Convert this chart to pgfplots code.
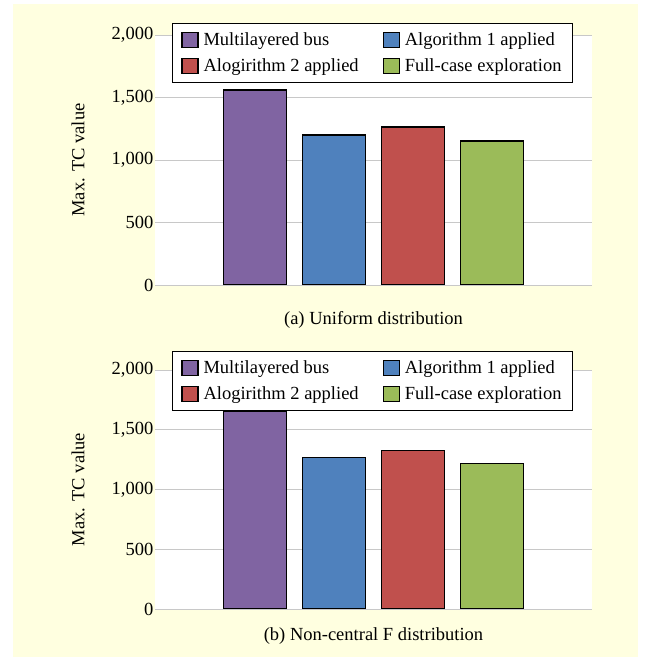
\documentclass[border=0pt]{standalone}
\usepackage{fontspec}
\setmainfont{Liberation Serif}
\usepackage{pgfplots}
\pgfplotsset{compat=1.18}
\definecolor{bgy}{RGB}{255,255,224}
\definecolor{cpur}{RGB}{128,100,162}
\definecolor{cblu}{RGB}{79,129,189}
\definecolor{cred}{RGB}{192,80,77}
\definecolor{cgrn}{RGB}{155,187,89}
\definecolor{gridc}{RGB}{200,200,200}
\newcommand{\fs}{\fontsize{18.5}{22}\selectfont}
\newcommand{\deepstrut}{\rule[-6.5pt]{0pt}{6.5pt}}
\pgfplotsset{
  mybar/.style={
    scale only axis, width=437pt,
    xmin=-1, xmax=1, ymin=0, ymax=2000,
    ytick={0,500,1000,1500,2000}, xtick=\empty,
    ymajorgrids, grid style={draw=gridc, line width=0.8pt},
    axis line style={draw=none}, major tick style={draw=none},
    tick label style={font=\fs},
    yticklabel style={inner xsep=1.5pt},
    /pgf/number format/assume math mode=true,
    /pgf/number format/1000 sep={,},
    ylabel={Max. TC value},
    every axis y label/.style={at={([xshift=-77pt]rel axis cs:0,0.5)}, rotate=90, anchor=center, font=\fs},
    axis background/.style={fill=white},
    ybar=15.8pt, bar width=63pt,
    every axis plot/.append style={draw=black, line width=1.1pt},
    legend columns=2, legend cell align=left,
    legend image code/.code={\fill[##1] (0pt,-7.5pt) rectangle (16pt,7.5pt); \path (19pt,0pt);},
    legend style={draw=black, line width=0.9pt, fill=white, font=\fs,
      inner xsep=9pt, inner ysep=7pt, row sep=8pt,
      /tikz/every even column/.append style={column sep=22pt}},
  }
}
\begin{document}
\begin{tikzpicture}
\path (0pt,0pt) rectangle (650pt,661pt);
\fill[bgy] (13pt,4pt) rectangle (638pt,657pt);
% top
\begin{axis}[mybar, height=250pt, at={(155pt,376pt)}, anchor=south west,
  xlabel={(a) Uniform distribution},
  every axis x label/.style={at={([yshift=-35pt]rel axis cs:0.5,0)}, anchor=center, font=\fs},
  legend style={at={(0.0389,1.048)}, anchor=north west}]
\addplot[fill=cpur] coordinates {(0,1560)};
\addplot[fill=cblu] coordinates {(0,1200)};
\addplot[fill=cred] coordinates {(0,1264)};
\addplot[fill=cgrn] coordinates {(0,1152)};
\legend{Multilayered bus, Algorithm 1 applied, Alogirithm 2 applied\deepstrut, Full-case exploration\deepstrut}
\draw[gridc, line width=0.9pt] ([yshift=-10pt]rel axis cs:0,0) -- (rel axis cs:0,0) -- (rel axis cs:1,0) -- ([yshift=-10pt]rel axis cs:1,0);
\end{axis}
% bottom
\begin{axis}[mybar, height=239pt, at={(155pt,52pt)}, anchor=south west,
  xlabel={(b) Non-central F distribution},
  every axis x label/.style={at={([yshift=-27pt]rel axis cs:0.5,0)}, anchor=center, font=\fs},
  legend style={at={(0.0389,1.0795)}, anchor=north west}]
\addplot[fill=cpur] coordinates {(0,1655)};
\addplot[fill=cblu] coordinates {(0,1265)};
\addplot[fill=cred] coordinates {(0,1330)};
\addplot[fill=cgrn] coordinates {(0,1220)};
\legend{Multilayered bus, Algorithm 1 applied, Alogirithm 2 applied\deepstrut, Full-case exploration\deepstrut}
\draw[gridc, line width=0.9pt] ([yshift=-10pt]rel axis cs:0,0) -- (rel axis cs:0,0) -- (rel axis cs:1,0) -- ([yshift=-10pt]rel axis cs:1,0);
\end{axis}
\end{tikzpicture}
\end{document}
